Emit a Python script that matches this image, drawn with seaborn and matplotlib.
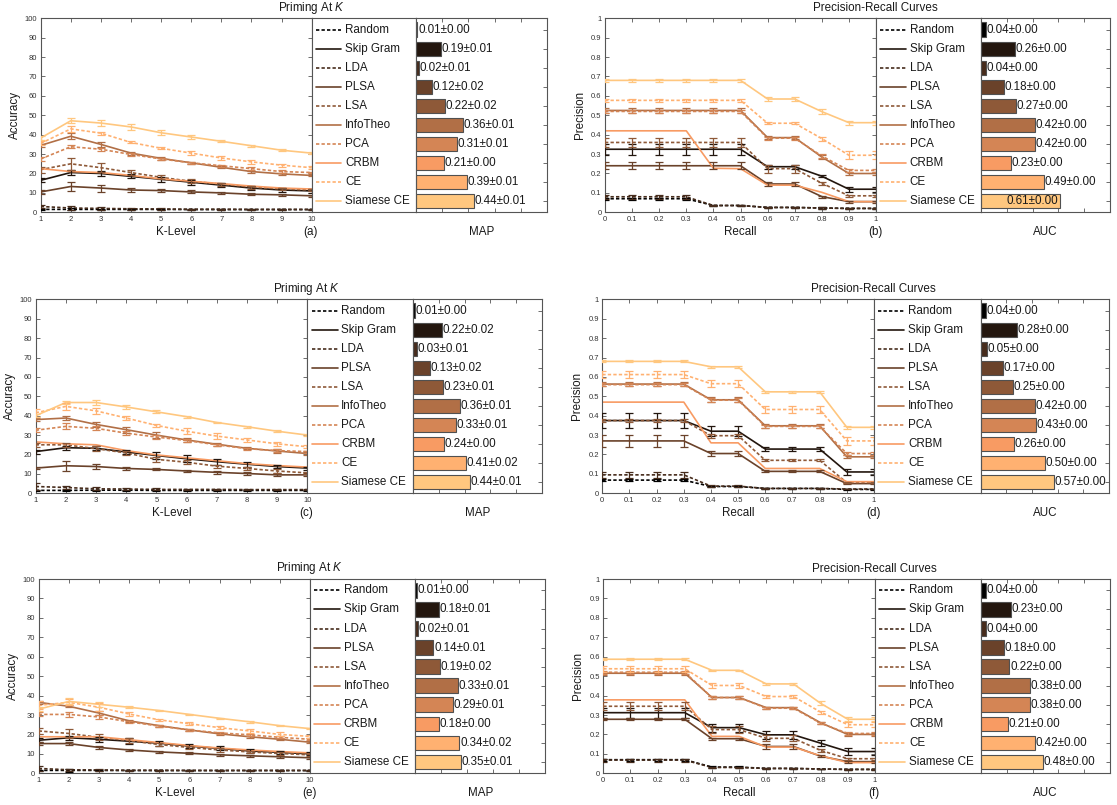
import matplotlib
matplotlib.use("Agg")
import matplotlib.pyplot as plt
import pandas as pd
import seaborn as sns

sns.set_theme(style="white")
plt.rcParams["font.family"] = ["Liberation Sans", "DejaVu Sans"]
plt.rcParams["mathtext.fontset"] = "custom"
plt.rcParams["mathtext.rm"] = "Liberation Sans"
plt.rcParams["mathtext.it"] = "Liberation Sans:italic"

# ---------------------------------------------------------------- data
METHODS = ["Random", "Skip Gram", "LDA", "PLSA", "LSA",
           "InfoTheo", "PCA", "CRBM", "CE", "Siamese CE"]
# copper colour map, dark to light
COLORS = ["#000000", "#23160e", "#472c1c", "#6a422a", "#8e5938",
          "#b16f46", "#d48555", "#f89b63", "#ffb171", "#ffc77f"]
DASHED = ["Random", "LDA", "LSA", "PCA", "CE"]

K_LEVELS = [1, 2, 3, 4, 5, 6, 7, 8, 9, 10]
RECALL = [0.0, 0.1, 0.2, 0.3, 0.4, 0.5, 0.6, 0.7, 0.8, 0.9, 1.0]

# priming accuracy at K (%), dataset 1
prime_a = {
    "Random":     [1.5, 1.5, 1.5, 1.5, 1.5, 1.4, 1.4, 1.4, 1.4, 1.4],
    "Skip Gram":  [16.5, 20.5, 20.0, 18.5, 17.0, 15.5, 14.0, 12.5, 11.5, 11.0],
    "LDA":        [3.0, 2.2, 2.0, 1.8, 1.7, 1.6, 1.6, 1.5, 1.5, 1.5],
    "PLSA":       [10.5, 13.3, 12.5, 11.5, 11.2, 10.5, 10.0, 9.3, 9.0, 8.5],
    "LSA":        [22.0, 25.0, 23.0, 20.5, 18.0, 16.0, 14.5, 13.0, 12.0, 11.5],
    "InfoTheo":   [34.5, 39.2, 35.0, 30.5, 27.8, 25.5, 23.2, 21.0, 19.8, 19.0],
    "PCA":        [27.5, 33.8, 32.5, 29.8, 27.5, 25.5, 24.0, 22.5, 21.0, 20.5],
    "CRBM":       [22.5, 21.0, 20.5, 19.0, 17.2, 16.0, 14.8, 13.5, 12.5, 12.0],
    "CE":         [35.5, 43.0, 40.8, 36.0, 33.0, 30.5, 28.0, 26.0, 24.3, 23.0],
    "Siamese CE": [38.3, 47.2, 46.0, 44.0, 41.0, 38.8, 36.6, 34.3, 32.0, 30.5],
}
prime_a_err = {
    "Random":     [0.3, 0.5, 0.3, 0.3, 0.2, 0.2, 0.2, 0.2, 0.2, 0.2],
    "Skip Gram":  [1.0, 1.5, 1.5, 1.0, 1.2, 1.2, 1.0, 1.0, 0.8, 0.8],
    "LDA":        [1.0, 0.8, 0.6, 0.5, 0.4, 0.3, 0.3, 0.3, 0.3, 0.3],
    "PLSA":       [1.0, 2.5, 1.8, 1.2, 0.8, 0.8, 0.6, 0.6, 0.6, 0.5],
    "LSA":        [1.5, 3.0, 2.3, 1.5, 1.0, 1.0, 0.8, 0.8, 0.7, 0.7],
    "InfoTheo":   [0.8, 1.5, 1.2, 0.8, 0.6, 0.6, 0.6, 0.5, 0.5, 0.5],
    "PCA":        [1.0, 0.8, 0.7, 0.7, 0.6, 0.6, 0.6, 0.6, 0.6, 0.5],
    "CRBM":       [0, 0, 0, 0, 0, 0, 0, 0, 0, 0],
    "CE":         [1.0, 1.5, 0.8, 0.5, 0.6, 1.2, 1.0, 1.0, 0.8, 0.8],
    "Siamese CE": [0.8, 1.2, 1.5, 1.5, 1.2, 1.2, 0.6, 0.4, 0.4, 0.4],
}

# priming accuracy at K (%), dataset 2
prime_c = {
    "Random":     [1.5, 1.5, 1.6, 1.6, 1.5, 1.5, 1.5, 1.5, 1.5, 1.5],
    "Skip Gram":  [21.5, 23.5, 23.2, 21.3, 19.5, 17.8, 16.3, 15.0, 13.8, 13.0],
    "LDA":        [3.5, 3.0, 2.3, 2.2, 2.0, 2.0, 2.0, 1.9, 1.9, 1.9],
    "PLSA":       [13.0, 14.2, 13.8, 12.8, 12.3, 11.5, 10.8, 10.2, 9.5, 9.5],
    "LSA":        [25.0, 25.0, 23.0, 20.8, 17.5, 16.0, 14.0, 12.8, 11.5, 10.5],
    "InfoTheo":   [38.0, 38.8, 35.5, 32.8, 30.0, 27.5, 25.3, 23.2, 21.8, 20.5],
    "PCA":        [32.5, 34.5, 33.5, 31.0, 29.0, 27.2, 25.0, 23.0, 22.0, 21.5],
    "CRBM":       [26.5, 25.5, 25.0, 22.0, 19.8, 18.3, 16.8, 15.3, 14.3, 13.5],
    "CE":         [41.5, 44.8, 42.5, 38.8, 35.0, 32.0, 29.5, 27.5, 25.5, 24.0],
    "Siamese CE": [40.0, 46.8, 46.8, 44.5, 42.0, 39.5, 36.5, 34.3, 32.0, 30.0],
}
prime_c_err = {
    "Random":     [0.3, 0.3, 0.3, 0.3, 0.2, 0.2, 0.2, 0.2, 0.2, 0.2],
    "Skip Gram":  [1.0, 1.0, 1.0, 1.2, 2.0, 1.8, 1.5, 1.2, 1.0, 0.8],
    "LDA":        [2.0, 1.0, 0.8, 0.6, 0.5, 0.4, 0.3, 0.3, 0.3, 0.3],
    "PLSA":       [0.6, 2.5, 1.5, 0.8, 0.5, 0.5, 0.6, 0.6, 0.8, 0.8],
    "LSA":        [1.0, 1.0, 1.2, 1.0, 1.2, 1.0, 0.8, 0.8, 0.8, 0.7],
    "InfoTheo":   [0.6, 0.8, 1.5, 1.5, 1.5, 1.0, 0.8, 0.6, 0.8, 0.6],
    "PCA":        [1.0, 1.5, 1.0, 1.0, 0.8, 0.8, 0.6, 0.6, 0.6, 0.5],
    "CRBM":       [0, 0, 0, 0, 0, 0, 0, 0, 0, 0],
    "CE":         [2.0, 1.8, 1.5, 1.0, 0.8, 1.5, 1.5, 1.2, 1.2, 0.8],
    "Siamese CE": [0.8, 1.0, 1.2, 0.8, 0.8, 0.5, 0.4, 0.4, 0.4, 0.4],
}

# priming accuracy at K (%), dataset 3
prime_e = {
    "Random":     [1.5, 1.5, 1.5, 1.4, 1.4, 1.4, 1.4, 1.4, 1.4, 1.4],
    "Skip Gram":  [17.0, 18.3, 17.5, 16.5, 15.5, 14.0, 12.8, 11.5, 10.8, 10.0],
    "LDA":        [2.5, 1.8, 1.7, 1.6, 1.6, 1.5, 1.5, 1.5, 1.5, 1.5],
    "PLSA":       [15.3, 15.3, 13.3, 12.0, 11.0, 10.3, 9.5, 9.0, 8.5, 8.0],
    "LSA":        [21.8, 20.5, 18.5, 16.8, 14.8, 13.3, 12.0, 11.0, 10.2, 9.5],
    "InfoTheo":   [36.5, 34.5, 31.0, 27.0, 24.5, 22.3, 20.3, 18.8, 17.5, 16.0],
    "PCA":        [30.3, 30.3, 29.0, 26.5, 24.3, 22.3, 20.8, 19.8, 18.5, 17.5],
    "CRBM":       [18.8, 18.8, 18.8, 17.3, 15.8, 14.3, 13.0, 12.0, 11.2, 10.5],
    "CE":         [35.0, 36.5, 34.0, 30.5, 27.5, 25.5, 23.5, 21.8, 20.0, 19.0],
    "Siamese CE": [33.0, 37.0, 35.5, 34.0, 32.3, 30.3, 28.3, 26.5, 24.5, 23.0],
}
prime_e_err = {
    "Random":     [0.3, 0.8, 0.4, 0.3, 0.2, 0.2, 0.2, 0.2, 0.2, 0.2],
    "Skip Gram":  [1.0, 1.0, 1.2, 1.5, 1.2, 1.2, 1.0, 1.0, 0.8, 0.8],
    "LDA":        [1.5, 0.5, 0.4, 0.3, 0.3, 0.3, 0.3, 0.3, 0.3, 0.3],
    "PLSA":       [0.6, 0.6, 0.6, 0.6, 0.6, 0.6, 0.6, 0.6, 0.6, 0.5],
    "LSA":        [1.5, 2.5, 1.5, 1.2, 1.0, 0.8, 0.8, 0.6, 0.6, 0.6],
    "InfoTheo":   [0.6, 0.6, 1.2, 0.6, 0.5, 0.5, 0.5, 0.5, 0.5, 0.5],
    "PCA":        [1.0, 1.5, 1.0, 0.6, 0.6, 0.6, 0.5, 0.5, 0.5, 0.5],
    "CRBM":       [0, 0, 0, 0, 0, 0, 0, 0, 0, 0],
    "CE":         [2.0, 1.5, 2.0, 0.8, 0.6, 0.8, 0.8, 1.2, 1.0, 0.8],
    "Siamese CE": [1.0, 1.5, 1.2, 0.5, 0.4, 0.4, 0.4, 0.4, 0.4, 0.4],
}

# interpolated precision at each recall level, dataset 1
pr_b = {
    "Random":     [0.07, 0.07, 0.07, 0.07, 0.035, 0.035, 0.025, 0.025, 0.022, 0.02, 0.02],
    "Skip Gram":  [0.325, 0.325, 0.325, 0.325, 0.325, 0.325, 0.235, 0.235, 0.186, 0.119, 0.119],
    "LDA":        [0.08, 0.08, 0.08, 0.08, 0.035, 0.035, 0.025, 0.025, 0.022, 0.02, 0.02],
    "PLSA":       [0.24, 0.24, 0.24, 0.24, 0.24, 0.24, 0.146, 0.146, 0.081, 0.055, 0.055],
    "LSA":        [0.36, 0.36, 0.36, 0.36, 0.36, 0.36, 0.225, 0.225, 0.15, 0.085, 0.085],
    "InfoTheo":   [0.525, 0.525, 0.525, 0.525, 0.525, 0.525, 0.385, 0.385, 0.285, 0.2, 0.2],
    "PCA":        [0.52, 0.52, 0.52, 0.52, 0.52, 0.52, 0.382, 0.382, 0.29, 0.216, 0.216],
    "CRBM":       [0.42, 0.42, 0.42, 0.42, 0.227, 0.225, 0.14, 0.14, 0.103, 0.055, 0.055],
    "CE":         [0.577, 0.577, 0.577, 0.577, 0.577, 0.577, 0.459, 0.459, 0.38, 0.294, 0.294],
    "Siamese CE": [0.68, 0.68, 0.68, 0.68, 0.68, 0.68, 0.584, 0.584, 0.519, 0.462, 0.462],
}
pr_b_err = {
    "Random":     [0.005, 0.005, 0.005, 0.005, 0.004, 0.004, 0.003, 0.003, 0.003, 0.002, 0.002],
    "Skip Gram":  [0.028, 0.028, 0.028, 0.028, 0.028, 0.028, 0.01, 0.01, 0.006, 0.012, 0.012],
    "LDA":        [0.01, 0.01, 0.01, 0.01, 0.005, 0.005, 0.003, 0.003, 0.003, 0.002, 0.002],
    "PLSA":       [0.018, 0.018, 0.018, 0.018, 0.018, 0.018, 0.008, 0.008, 0.005, 0.005, 0.005],
    "LSA":        [0.022, 0.022, 0.022, 0.022, 0.022, 0.022, 0.02, 0.02, 0.008, 0.005, 0.005],
    "InfoTheo":   [0.012, 0.012, 0.012, 0.012, 0.012, 0.012, 0.008, 0.008, 0.01, 0.006, 0.006],
    "PCA":        [0.008, 0.008, 0.008, 0.008, 0.008, 0.008, 0.008, 0.008, 0.012, 0.006, 0.006],
    "CRBM":       [0, 0, 0, 0, 0, 0, 0, 0, 0, 0, 0],
    "CE":         [0.008, 0.008, 0.008, 0.008, 0.008, 0.008, 0.005, 0.005, 0.01, 0.02, 0.02],
    "Siamese CE": [0.008, 0.008, 0.008, 0.008, 0.008, 0.008, 0.012, 0.012, 0.012, 0.01, 0.01],
}

# interpolated precision at each recall level, dataset 2
pr_d = {
    "Random":     [0.068, 0.068, 0.068, 0.068, 0.035, 0.035, 0.025, 0.025, 0.025, 0.02, 0.02],
    "Skip Gram":  [0.375, 0.375, 0.375, 0.375, 0.32, 0.32, 0.228, 0.228, 0.228, 0.11, 0.11],
    "LDA":        [0.095, 0.095, 0.095, 0.095, 0.037, 0.037, 0.025, 0.025, 0.025, 0.022, 0.022],
    "PLSA":       [0.27, 0.27, 0.27, 0.27, 0.205, 0.205, 0.113, 0.113, 0.113, 0.05, 0.05],
    "LSA":        [0.375, 0.375, 0.375, 0.375, 0.297, 0.297, 0.17, 0.17, 0.17, 0.055, 0.055],
    "InfoTheo":   [0.563, 0.563, 0.563, 0.563, 0.482, 0.482, 0.348, 0.348, 0.348, 0.188, 0.188],
    "PCA":        [0.56, 0.56, 0.56, 0.56, 0.48, 0.48, 0.345, 0.345, 0.345, 0.205, 0.205],
    "CRBM":       [0.47, 0.47, 0.47, 0.47, 0.26, 0.26, 0.128, 0.128, 0.128, 0.06, 0.06],
    "CE":         [0.612, 0.612, 0.612, 0.612, 0.565, 0.565, 0.432, 0.432, 0.432, 0.27, 0.27],
    "Siamese CE": [0.68, 0.68, 0.68, 0.68, 0.652, 0.652, 0.523, 0.523, 0.523, 0.34, 0.34],
}
pr_d_err = {
    "Random":     [0.005, 0.005, 0.005, 0.005, 0.004, 0.004, 0.003, 0.003, 0.003, 0.002, 0.002],
    "Skip Gram":  [0.04, 0.04, 0.04, 0.04, 0.025, 0.025, 0.012, 0.012, 0.012, 0.015, 0.015],
    "LDA":        [0.015, 0.015, 0.015, 0.015, 0.005, 0.005, 0.003, 0.003, 0.003, 0.002, 0.002],
    "PLSA":       [0.03, 0.03, 0.03, 0.03, 0.015, 0.015, 0.005, 0.005, 0.005, 0.004, 0.004],
    "LSA":        [0.01, 0.01, 0.01, 0.01, 0.01, 0.01, 0.005, 0.005, 0.005, 0.004, 0.004],
    "InfoTheo":   [0.01, 0.01, 0.01, 0.01, 0.012, 0.012, 0.01, 0.01, 0.01, 0.008, 0.008],
    "PCA":        [0.008, 0.008, 0.008, 0.008, 0.01, 0.01, 0.008, 0.008, 0.008, 0.008, 0.008],
    "CRBM":       [0, 0, 0, 0, 0, 0, 0, 0, 0, 0, 0],
    "CE":         [0.02, 0.02, 0.02, 0.02, 0.018, 0.018, 0.018, 0.018, 0.018, 0.02, 0.02],
    "Siamese CE": [0.005, 0.005, 0.005, 0.005, 0.005, 0.005, 0.005, 0.005, 0.005, 0.008, 0.008],
}

# interpolated precision at each recall level, dataset 3
pr_f = {
    "Random":     [0.07, 0.07, 0.07, 0.07, 0.032, 0.032, 0.025, 0.025, 0.022, 0.02, 0.02],
    "Skip Gram":  [0.312, 0.312, 0.312, 0.312, 0.235, 0.235, 0.198, 0.198, 0.155, 0.112, 0.112],
    "LDA":        [0.068, 0.068, 0.068, 0.068, 0.03, 0.03, 0.025, 0.025, 0.022, 0.02, 0.02],
    "PLSA":       [0.278, 0.278, 0.278, 0.278, 0.178, 0.178, 0.138, 0.138, 0.088, 0.06, 0.06],
    "LSA":        [0.345, 0.345, 0.345, 0.345, 0.225, 0.225, 0.18, 0.18, 0.118, 0.075, 0.075],
    "InfoTheo":   [0.515, 0.515, 0.515, 0.515, 0.39, 0.39, 0.338, 0.338, 0.26, 0.2, 0.2],
    "PCA":        [0.52, 0.52, 0.52, 0.52, 0.39, 0.39, 0.335, 0.335, 0.258, 0.205, 0.205],
    "CRBM":       [0.378, 0.378, 0.378, 0.378, 0.19, 0.19, 0.135, 0.135, 0.09, 0.055, 0.055],
    "CE":         [0.538, 0.538, 0.538, 0.538, 0.452, 0.452, 0.395, 0.395, 0.315, 0.25, 0.25],
    "Siamese CE": [0.587, 0.587, 0.587, 0.587, 0.53, 0.53, 0.46, 0.46, 0.36, 0.278, 0.278],
}
pr_f_err = {
    "Random":     [0.006, 0.006, 0.006, 0.006, 0.003, 0.003, 0.003, 0.003, 0.002, 0.002, 0.002],
    "Skip Gram":  [0.025, 0.025, 0.025, 0.025, 0.02, 0.02, 0.022, 0.022, 0.015, 0.02, 0.02],
    "LDA":        [0.008, 0.008, 0.008, 0.008, 0.003, 0.003, 0.003, 0.003, 0.002, 0.002, 0.002],
    "PLSA":       [0.006, 0.006, 0.006, 0.006, 0.006, 0.006, 0.012, 0.012, 0.005, 0.005, 0.005],
    "LSA":        [0.02, 0.02, 0.02, 0.02, 0.02, 0.02, 0.015, 0.015, 0.008, 0.005, 0.005],
    "InfoTheo":   [0.008, 0.008, 0.008, 0.008, 0.006, 0.006, 0.005, 0.005, 0.005, 0.006, 0.006],
    "PCA":        [0.008, 0.008, 0.008, 0.008, 0.006, 0.006, 0.005, 0.005, 0.005, 0.006, 0.006],
    "CRBM":       [0, 0, 0, 0, 0, 0, 0, 0, 0, 0, 0],
    "CE":         [0.015, 0.015, 0.015, 0.015, 0.012, 0.012, 0.01, 0.01, 0.008, 0.012, 0.012],
    "Siamese CE": [0.004, 0.004, 0.004, 0.004, 0.004, 0.004, 0.005, 0.005, 0.01, 0.01, 0.01],
}

# summary scores (mean, std) per method
map_a = [0.01, 0.19, 0.02, 0.12, 0.22, 0.36, 0.31, 0.21, 0.39, 0.44]
map_a_std = [0.00, 0.01, 0.01, 0.02, 0.02, 0.01, 0.01, 0.00, 0.01, 0.01]
map_c = [0.01, 0.22, 0.03, 0.13, 0.23, 0.36, 0.33, 0.24, 0.41, 0.44]
map_c_std = [0.00, 0.02, 0.01, 0.02, 0.01, 0.01, 0.01, 0.00, 0.02, 0.01]
map_e = [0.01, 0.18, 0.02, 0.14, 0.19, 0.33, 0.29, 0.18, 0.34, 0.35]
map_e_std = [0.00, 0.01, 0.01, 0.01, 0.02, 0.01, 0.01, 0.00, 0.02, 0.01]
auc_b = [0.04, 0.26, 0.04, 0.18, 0.27, 0.42, 0.42, 0.23, 0.49, 0.61]
auc_d = [0.04, 0.28, 0.05, 0.17, 0.25, 0.42, 0.43, 0.26, 0.50, 0.57]
auc_f = [0.04, 0.23, 0.04, 0.18, 0.22, 0.38, 0.38, 0.21, 0.42, 0.48]
auc_std = [0.00, 0.00, 0.00, 0.00, 0.00, 0.00, 0.00, 0.00, 0.00, 0.00]

# ---------------------------------------------------------------- layout
W, H = 1117, 805
fig = plt.figure(figsize=(W / 100, H / 100), dpi=100)
fig.patch.set_facecolor("white")

SPINE = "#555555"
TICKC = "#333333"
FS = 8.4
LW = 1.2
DASH = (2.0, 1.3)
PALETTE = dict(zip(METHODS, COLORS))
DASH_MAP = {m: (DASH if m in DASHED else "") for m in METHODS}


def rect(x0, x1, ytop, ybot):
    return [x0 / W, 1 - ybot / H, (x1 - x0) / W, (ybot - ytop) / H]


def style_spines(ax):
    for s in ax.spines.values():
        s.set_visible(True)
        s.set_color(SPINE)
        s.set_linewidth(0.8)


def draw_panel(xb, yb, xs, curves, errs, scores, stds, kind, letter):
    x_line, x_leg, x_bar, x_end = xb
    ytop, ybot = yb

    # ----- curves
    ax = fig.add_axes(rect(x_line, x_leg, ytop, ybot))
    long = pd.DataFrame(
        [(m, x, v) for m in METHODS for x, v in zip(xs, curves[m])],
        columns=["method", "x", "value"],
    )
    sns.lineplot(data=long, x="x", y="value", hue="method", style="method",
                 hue_order=METHODS, style_order=METHODS, palette=PALETTE,
                 dashes=DASH_MAP, linewidth=LW, legend=False, sort=False,
                 errorbar=None, ax=ax)
    for m in METHODS:
        if any(e > 0 for e in errs[m]):
            ax.errorbar(xs, curves[m], yerr=errs[m], fmt="none",
                        ecolor=PALETTE[m], elinewidth=0.9, capsize=3,
                        capthick=0.9, zorder=3)
    style_spines(ax)
    ax.set_xlim(xs[0], xs[-1])
    if kind == "prime":
        ax.set_ylim(0, 100)
        ax.set_yticks(range(0, 101, 10))
        ax.set_xticks(xs)
        ylab, xlab, title, blab = "Accuracy", "K-Level", "Priming At $K$", "MAP"
    else:
        ax.set_ylim(0, 1)
        ticks = [i / 10 for i in range(11)]
        ax.set_yticks(ticks)
        ax.set_xticks(ticks)
        ax.set_yticklabels([f"{t:g}" for t in ticks])
        ax.set_xticklabels([f"{t:g}" for t in ticks])
        ylab, xlab, title, blab = "Precision", "Recall", "Precision-Recall Curves", "AUC"
    ax.set_xlabel("")
    ax.set_ylabel("")
    ax.tick_params(direction="in", length=3, width=0.6, colors=SPINE,
                   labelcolor=TICKC, labelsize=5.5, pad=2.5,
                   top=True, right=True, bottom=True, left=True)

    # ----- legend box
    lg = fig.add_axes(rect(x_leg, x_bar, ytop, ybot))
    lg.set_xlim(0, 1)
    lg.set_ylim(9.6, -0.6)
    style_spines(lg)
    lg.set_xticks([])
    lg.set_yticks([])
    lg.set_facecolor("white")
    for i, m in enumerate(METHODS):
        ln, = lg.plot([0.04, 0.285], [i, i], color=PALETTE[m], lw=LW)
        if m in DASHED:
            ln.set_dashes(DASH)
        lg.text(0.32, i, m, va="center", ha="left", fontsize=FS, color="#1a1a1a")

    # ----- bars
    bx = fig.add_axes(rect(x_bar, x_end, ytop, ybot))
    sns.barplot(x=scores, y=METHODS, hue=METHODS, palette=PALETTE,
                orient="h", width=0.76, edgecolor="#505050", linewidth=0.8,
                saturation=1, legend=False, ax=bx)
    style_spines(bx)
    bx.set_xlim(0, 1)
    bx.set_ylim(9.6, -0.6)
    bx.set_xticks([0.2, 0.4, 0.6, 0.8])
    bx.set_xticklabels([])
    bx.set_yticks(range(len(METHODS)))
    bx.set_yticklabels([])
    bx.set_xlabel("")
    bx.set_ylabel("")
    bx.tick_params(direction="in", length=3, width=0.6, colors=SPINE,
                   top=True, bottom=True, left=False, right=True)
    for i, (v, s) in enumerate(zip(scores, stds)):
        label = f"{v:.2f}\u00b1{s:.2f}"
        if v > 0.6:
            bx.text(v - 0.012, i, label, va="center", ha="right",
                    fontsize=FS, color="#1a1a1a", clip_on=False)
        else:
            bx.text(v + 0.006, i, label, va="center", ha="left",
                    fontsize=FS, color="#1a1a1a", clip_on=False)

    # ----- labels
    ycap = ybot + 19.5
    fig.text((x_line + x_leg) / 2 / W, 1 - ycap / H, xlab, ha="center",
             va="center", fontsize=FS, color="#1a1a1a")
    fig.text((x_line - 25.5) / W, 1 - (ytop + ybot) / 2 / H, ylab,
             rotation=90, ha="center", va="center", fontsize=FS, color="#1a1a1a")
    fig.text((x_bar + x_end) / 2 / W, 1 - ycap / H, blab, ha="center",
             va="center", fontsize=FS, color="#1a1a1a")
    fig.text((x_leg - 1) / W, 1 - ycap / H, f"({letter})", ha="center",
             va="center", fontsize=FS, color="#1a1a1a")
    fig.text((x_leg - 0.5) / W, 1 - (ytop - 10.5) / H, title, ha="center",
             va="center", fontsize=FS, color="#1a1a1a")


ROWS_Y = [(18.3, 212.3), (299.3, 493.3), (579.0, 773.3)]
LEFT_X = [(40.7, 311.7, 416.0, 547.0), (35.7, 307.3, 413.3, 541.7),
          (38.7, 310.0, 415.3, 545.0)]
RIGHT_X = [(605.0, 876.0, 981.0, 1110.0), (602.3, 874.0, 980.7, 1109.0),
           (603.3, 875.0, 981.0, 1110.0)]

PRIME = [(prime_a, prime_a_err, map_a, map_a_std, "a"),
         (prime_c, prime_c_err, map_c, map_c_std, "c"),
         (prime_e, prime_e_err, map_e, map_e_std, "e")]
PR = [(pr_b, pr_b_err, auc_b, auc_std, "b"),
      (pr_d, pr_d_err, auc_d, auc_std, "d"),
      (pr_f, pr_f_err, auc_f, auc_std, "f")]

for r in range(3):
    c, e, s, sd, let = PRIME[r]
    draw_panel(LEFT_X[r], ROWS_Y[r], K_LEVELS, c, e, s, sd, "prime", let)
    c, e, s, sd, let = PR[r]
    draw_panel(RIGHT_X[r], ROWS_Y[r], RECALL, c, e, s, sd, "pr", let)

fig.savefig("out.png", dpi=100, facecolor="white")
